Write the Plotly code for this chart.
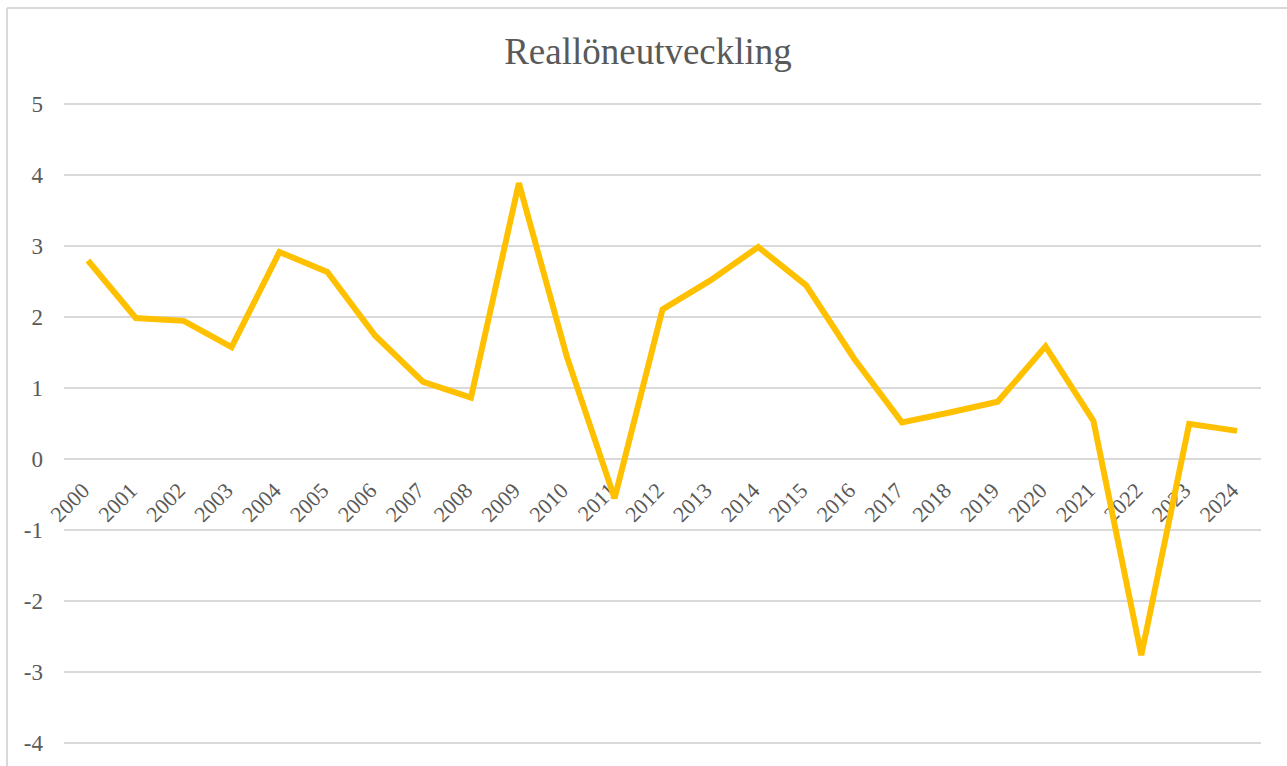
import plotly.graph_objects as go

years = [str(y) for y in range(2000, 2025)]
values = [2.80, 1.99, 1.95, 1.58, 2.92, 2.64, 1.74, 1.09, 0.87, 3.89,
          1.45, -0.55, 2.11, 2.52, 2.99, 2.45, 1.42, 0.52, 0.66, 0.81,
          1.59, 0.54, -2.76, 0.50, 0.40]
y_tickvals = [-4, -3, -2, -1, 0, 1, 2, 3, 4, 5]
y_ticktext = ["-4", "-3", "-2", "-1", "0", "1", "2", "3", "4", "5"]
title_text = "Reallöneutveckling"

W, H = 1287, 766
L, R, T, B = 64, 26, 97, 2
zero_px, px_per_unit = 459.3, 71.0
ytop = (zero_px - T) / px_per_unit
ybot = (zero_px - (H - B)) / px_per_unit
grey = "#595959"
grid = "#d9d9d9"
font = "Liberation Serif, Times New Roman, serif"

fig = go.Figure()
fig.add_trace(go.Scatter(
    x=years, y=values, mode="lines",
    line=dict(color="#FFC000", width=6),
    hoverinfo="x+y", showlegend=False,
))

zero_pos = (0 - ybot) / (ytop - ybot)
pw, ph = W - L - R, H - T - B

fig.update_layout(
    width=W, height=H,
    margin=dict(l=L, r=R, t=T, b=B, pad=0),
    paper_bgcolor="white", plot_bgcolor="white",
    font=dict(family=font, color=grey),
    title=dict(text=title_text, x=648 / W, xanchor="center",
               y=1 - 51 / H, yanchor="middle", yref="container",
               font=dict(family=font, size=37, color=grey)),
    xaxis=dict(type="category", range=[-0.5, len(years) - 0.5],
               anchor="free", position=zero_pos,
               showgrid=False, showline=False, zeroline=False,
               ticks="", tickangle=-45,
               tickfont=dict(family=font, size=22, color=grey),
               layer="below traces", ticklabelstandoff=13,
               ticklabelshift=-5),
    yaxis=dict(range=[ybot, ytop], tickvals=y_tickvals, ticktext=y_ticktext,
               showgrid=True, gridcolor=grid, gridwidth=1.5,
               zeroline=False, showline=False, ticks="",
               tickfont=dict(family=font, size=23, color=grey),
               ticklabelstandoff=20),
    shapes=[
        dict(type="line", xref="paper", yref="paper",
             x0=(7 - L) / pw, x1=(7 - L) / pw,
             y0=-0.2, y1=(H - B - 8) / ph,
             line=dict(color=grid, width=2)),
        dict(type="line", xref="paper", yref="paper",
             x0=(7 - L) / pw, x1=1.2,
             y0=(H - B - 8) / ph, y1=(H - B - 8) / ph,
             line=dict(color=grid, width=2)),
    ],
)

fig.write_html("out.html", config={"displayModeBar": False},
               post_script="document.body.style.margin='0';")
